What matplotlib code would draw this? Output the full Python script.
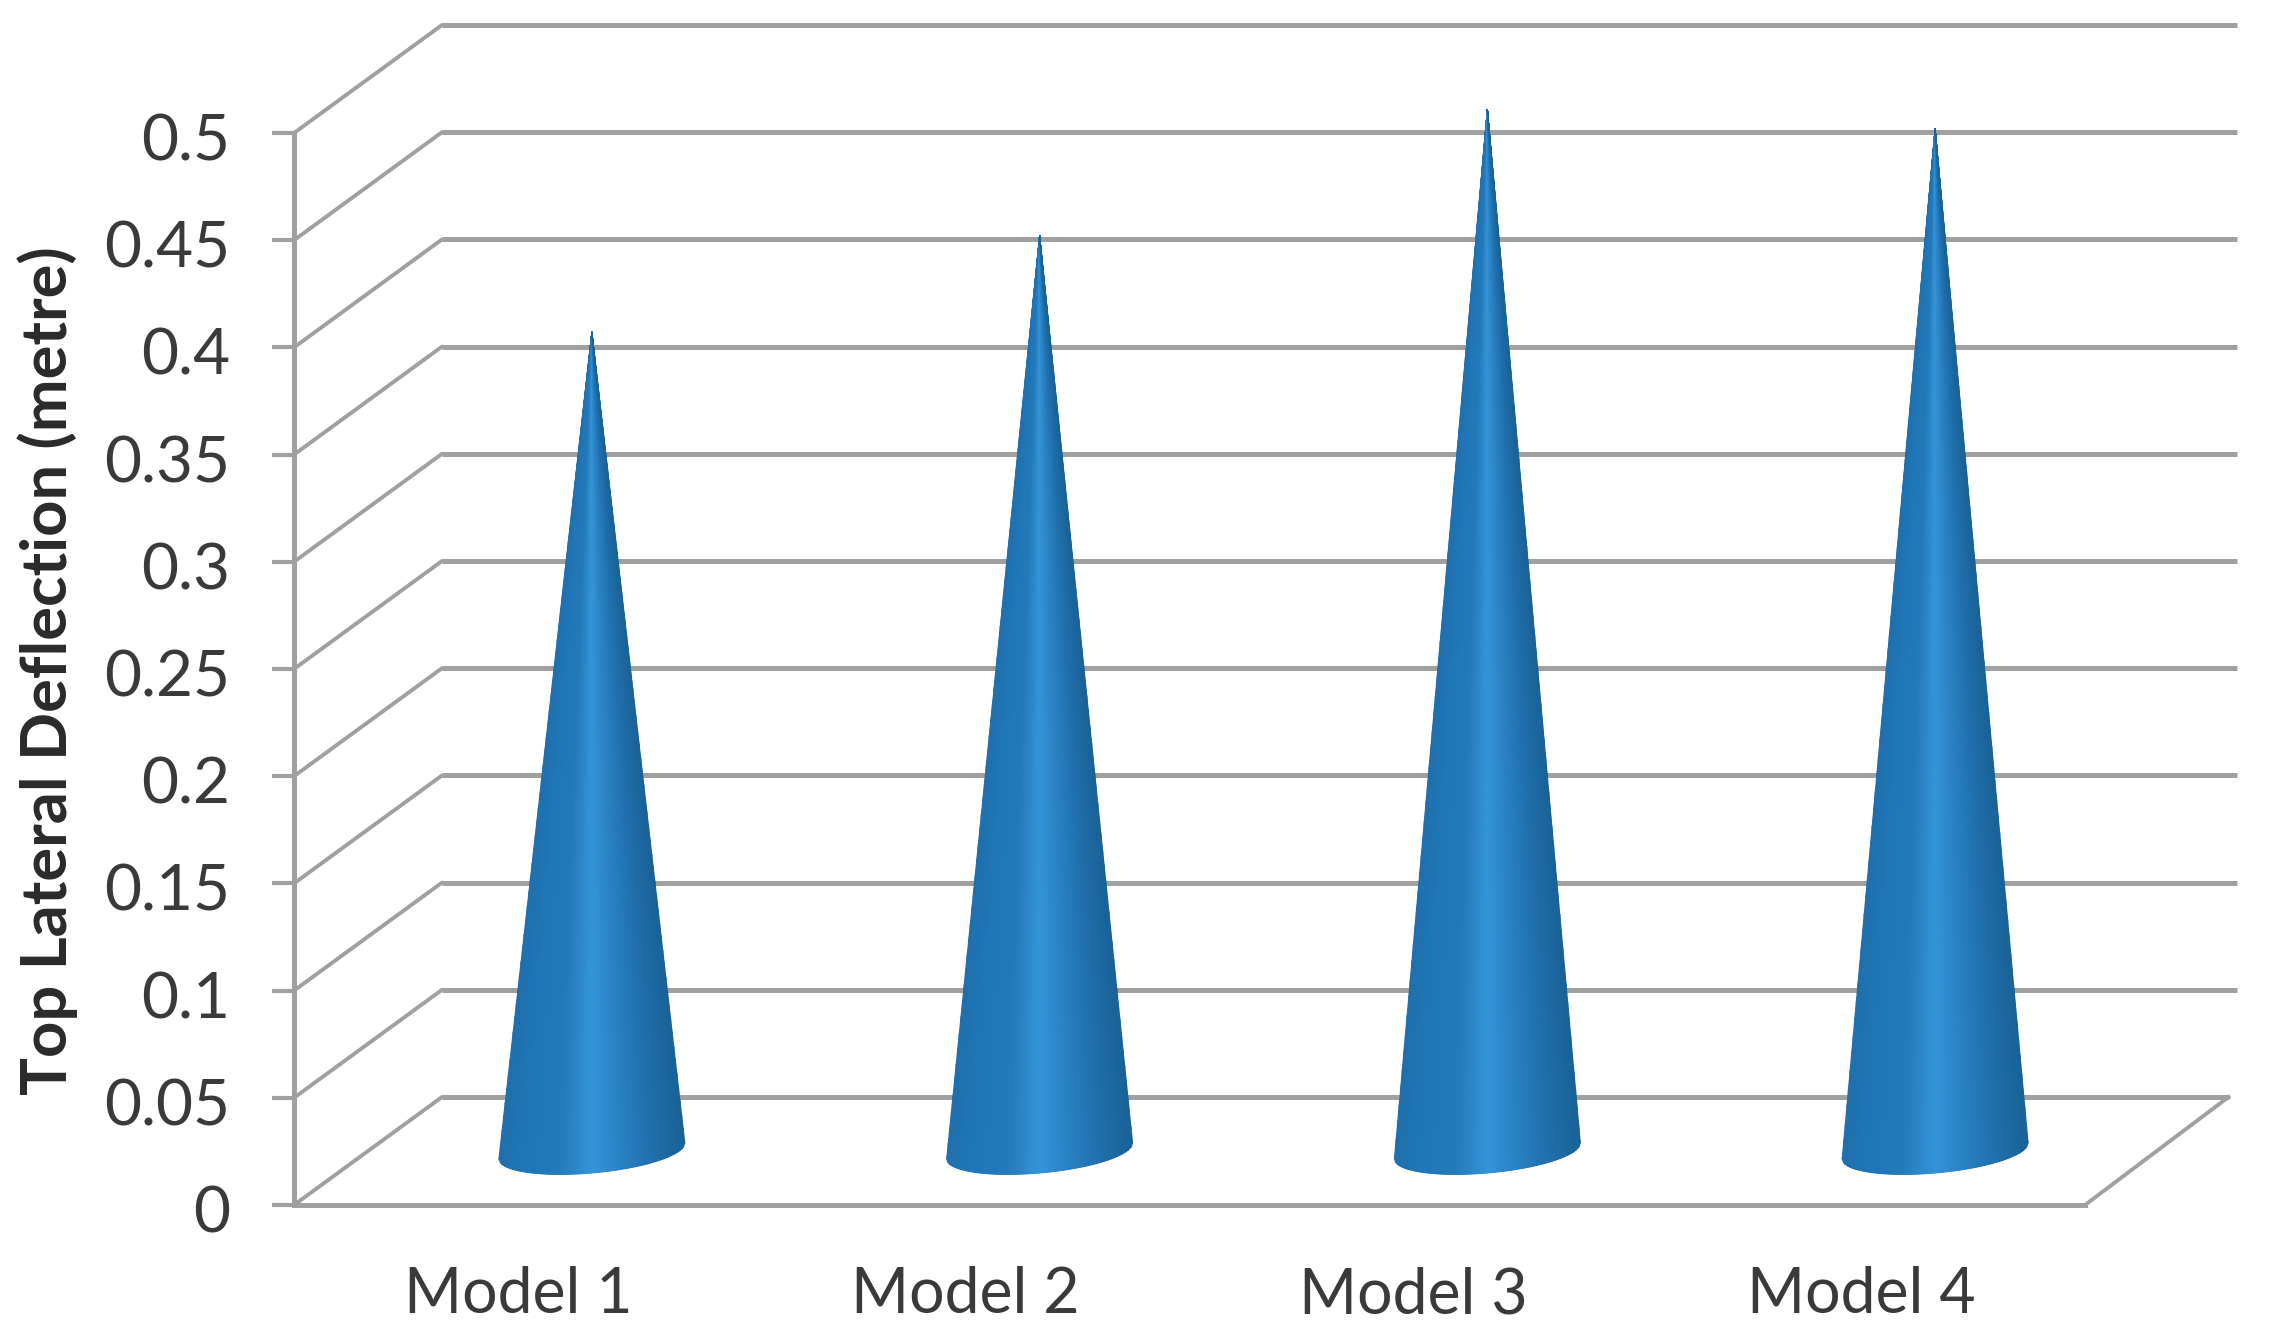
import numpy as np
import matplotlib
matplotlib.use("Agg")
import matplotlib.pyplot as plt
from matplotlib.colors import LinearSegmentedColormap
from matplotlib.transforms import ScaledTranslation

categories = ["Model 1", "Model 2", "Model 3", "Model 4"]
deflection = [0.382, 0.427, 0.486, 0.477]
y_ticks = [0, 0.05, 0.1, 0.15, 0.2, 0.25, 0.3, 0.35, 0.4, 0.45, 0.5]
y_tick_labels = ["0", "0.05", "0.1", "0.15", "0.2", "0.25", "0.3", "0.35", "0.4", "0.45", "0.5"]
y_label = "Top Lateral Deflection (metre)"

GRID = "#a0a0a0"
TEXT = "#3a3a3a"
W, H = 2278, 1343
plt.rcParams["font.family"] = ["Lato", "DejaVu Sans"]

fig = plt.figure(figsize=(W / 100, H / 100), dpi=100, facecolor="white")
ax = fig.add_axes([294 / W, (H - 1205) / H, 1791 / W, 1072 / H])
ax.set_xlim(-0.5, 3.5)
ax.set_ylim(0, 0.5)

# oblique depth of the pseudo-3D box, in data units
depth_x = 148 / (1791 / 4)
depth_y = 108 / (1072 / 0.5)
x0, x1 = -0.5, 3.5

for v in y_ticks:
    ax.plot([x0, x0 + depth_x], [v, v + depth_y], color=GRID, lw=2.8, clip_on=False, zorder=1,
            solid_capstyle="round")
    end = x1 + depth_x * (0.97 if v == 0 else 1.03)
    ax.plot([x0 + depth_x, end], [v + depth_y, v + depth_y], color=GRID, lw=3.6, clip_on=False,
            zorder=1, solid_capstyle="butt")
ax.plot([x1, x1 + depth_x * 0.97], [0, depth_y], color=GRID, lw=2.8, clip_on=False, zorder=1)

cone_cmap = LinearSegmentedColormap.from_list(
    "cone",
    [(0.0, "#1f70ad"), (0.14, "#1f77b8"), (0.32, "#2479b8"), (0.5, "#3595da"),
     (0.62, "#2c86c8"), (0.82, "#2070ad"), (1.0, "#1a6298")],
)

half_width = 93 / (1791 / 4)
ellipse = 22 / (1072 / 0.5)
tilt = 8 / (1072 / 0.5)
u = np.linspace(-1, 1, 121)
t = np.linspace(0, 1, 60)
U, T = np.meshgrid(u, t)
for i, value in enumerate(deflection):
    cx = i + depth_x / 2
    base = depth_y / 2
    bottom = base - ellipse * np.sqrt(1 - U ** 2) + tilt * U
    X = cx + half_width * U * (1 - T)
    Y = bottom * (1 - T) + (base + value) * T
    ax.pcolormesh(X, Y, (U + 1) / 2, cmap=cone_cmap, vmin=0, vmax=1, shading="gouraud",
                  clip_on=False, zorder=3, rasterized=True)

for name in ("top", "right"):
    ax.spines[name].set_visible(False)
for name in ("left", "bottom"):
    ax.spines[name].set_color(GRID)
    ax.spines[name].set_linewidth(3.6)
    ax.spines[name].set_zorder(2)

ax.set_yticks(y_ticks)
ax.set_yticklabels(y_tick_labels)
ax.set_xticks(range(len(categories)))
ax.set_xticklabels(categories)
ax.tick_params(axis="y", length=16, width=3.0, color=GRID, labelcolor=TEXT, labelsize=46, pad=30)
ax.tick_params(axis="x", length=0, labelcolor=TEXT, labelsize=45, pad=44)
shift = ScaledTranslation(0, -4 / 100, fig.dpi_scale_trans)
for label in ax.get_yticklabels():
    label.set_transform(label.get_transform() + shift)
fig.text(48 / W, 1 - 671 / H, y_label, rotation=90, ha="center", va="center",
         fontsize=45.5, fontweight="bold", color="#2a2a2a")

fig.savefig("out.png", dpi=100, facecolor="white")
